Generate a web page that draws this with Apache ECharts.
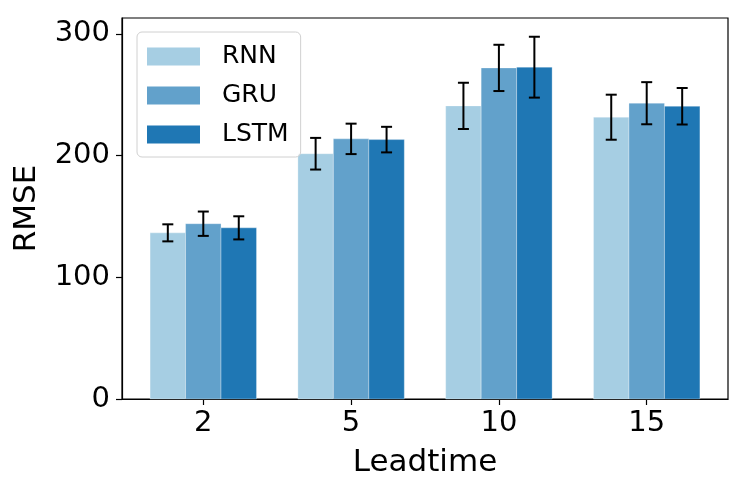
<!DOCTYPE html>
<html>
<head>
<meta charset="utf-8">
<script src="https://cdn.jsdelivr.net/npm/echarts@6/dist/echarts.min.js"></script>
<style>html,body{margin:0;padding:0;background:#fff;}#chart{width:747px;height:492px;}</style>
</head>
<body>
<div id="chart"></div>
<script>
const categories = ['2', '5', '10', '15'];
const seriesNames = ['RNN', 'GRU', 'LSTM'];
const rnnValues = [136.5, 201.5, 240.8, 231.5];
const gruValues = [144.0, 213.7, 272.0, 243.0];
const lstmValues = [140.6, 213.1, 272.6, 240.5];
const rnnErrors = [7, 13, 19, 18.5];
const gruErrors = [10, 12.5, 19, 17.3];
const lstmErrors = [9.5, 10.5, 25, 15];
const yTicks = [0, 100, 200, 300];

const colors = ['#a6cee3', '#62a1cb', '#1f77b4'];
const values = [rnnValues, gruValues, lstmValues];
const errors = [rnnErrors, gruErrors, lstmErrors];
const barW = 0.24;
const offsets = [-barW, 0, barW];
const FONT = 'DejaVu Sans';

const chart = echarts.init(document.getElementById('chart'), null, {renderer: 'canvas'});

const barSeries = seriesNames.map((name, s) => ({
  name: name,
  type: 'custom',
  itemStyle: {color: colors[s]},
  data: values[s].map((v, i) => [i + offsets[s], v]),
  encode: {x: 0, y: 1},
  z: 2,
  renderItem: function (params, api) {
    const x = api.value(0), y = api.value(1);
    const p1 = api.coord([x - barW / 2, y]);
    const p0 = api.coord([x + barW / 2, 0]);
    return {
      type: 'rect',
      shape: {x: p1[0], y: p1[1], width: p0[0] - p1[0], height: p0[1] - p1[1]},
      style: {fill: colors[s], stroke: 'rgba(255,255,255,0.5)', lineWidth: 0.6}
    };
  }
}));

const errSeries = seriesNames.map((name, s) => ({
  name: name + ' err',
  type: 'custom',
  silent: true,
  z: 5,
  data: values[s].map((v, i) => [i + offsets[s], v - errors[s][i], v + errors[s][i]]),
  encode: {x: 0, y: [1, 2]},
  renderItem: function (params, api) {
    const x = api.value(0);
    const lo = api.coord([x, api.value(1)]);
    const hi = api.coord([x, api.value(2)]);
    const c = 5.5;
    const st = {stroke: '#000', lineWidth: 2};
    return {
      type: 'group',
      children: [
        {type: 'line', shape: {x1: lo[0], y1: lo[1], x2: hi[0], y2: hi[1]}, style: st},
        {type: 'line', shape: {x1: lo[0] - c, y1: lo[1], x2: lo[0] + c, y2: lo[1]}, style: st},
        {type: 'line', shape: {x1: hi[0] - c, y1: hi[1], x2: hi[0] + c, y2: hi[1]}, style: st}
      ]
    };
  }
}));

chart.setOption({
  animation: false,
  backgroundColor: '#fff',
  textStyle: {fontFamily: FONT},
  grid: {left: 122, right: 19, top: 18, bottom: 93, show: true, borderColor: '#000', borderWidth: 1.2, backgroundColor: 'transparent'},
  legend: {
    data: seriesNames.map((n, s) => ({name: n, itemStyle: {color: colors[s]}})),
    orient: 'vertical',
    left: 137, top: 32,
    icon: 'rect',
    itemWidth: 53, itemHeight: 18, itemGap: 14,
    padding: [12, 12, 10, 10],
    borderColor: '#d0d0d0', borderWidth: 1, borderRadius: 5,
    backgroundColor: 'rgba(255,255,255,0.8)',
    textStyle: {fontFamily: FONT, fontSize: 25, color: '#000', padding: [0, 0, 0, 17]},
    z: 10
  },
  xAxis: {
    type: 'value',
    min: -0.55, max: 3.55,
    name: 'Leadtime',
    nameLocation: 'middle',
    nameGap: 48,
    nameTextStyle: {fontFamily: FONT, fontSize: 31, color: '#000'},
    splitLine: {show: false},
    axisLine: {show: true, onZero: false, lineStyle: {color: '#000', width: 1.2}},
    axisTick: {show: true, length: 6, lineStyle: {color: '#000', width: 1.2}, customValues: [0, 1, 2, 3]},
    axisLabel: {
      fontFamily: FONT, fontSize: 29, color: '#000', margin: 10,
      customValues: [0, 1, 2, 3],
      formatter: function (v) { const i = Math.round(v); return Math.abs(v - i) < 1e-6 && categories[i] !== undefined ? categories[i] : ''; }
    }
  },
  yAxis: {
    type: 'value',
    min: 0, max: 313, interval: 100,
    name: 'RMSE',
    nameLocation: 'middle',
    nameGap: 80,
    nameTextStyle: {fontFamily: FONT, fontSize: 31, color: '#000'},
    splitLine: {show: false},
    axisLine: {show: true, onZero: false, lineStyle: {color: '#000', width: 1.2}},
    axisTick: {show: true, length: 6, lineStyle: {color: '#000', width: 1.2}, customValues: yTicks},
    axisLabel: {fontFamily: FONT, fontSize: 29, color: '#000', margin: 12, customValues: yTicks}
  },
  series: barSeries.concat(errSeries)
});
</script>
</body>
</html>
